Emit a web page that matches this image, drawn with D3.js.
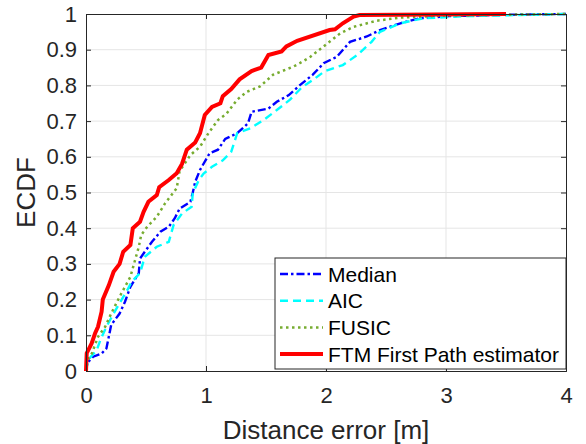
<!DOCTYPE html>
<html>
<head>
<meta charset="utf-8">
<script src="https://cdn.jsdelivr.net/npm/d3@7"></script>
<style>
  body { margin: 0; background: #fff; }
  text { font-family: "Liberation Sans", Arial, sans-serif; fill: #262626; }
</style>
</head>
<body>
<svg id="chart"></svg>
<script>
"use strict";
// ECDF curves: [distance error, ecdf]
const median = [[0,0],[0.006,0.026],[0.02,0.026],[0.06,0.04],[0.13,0.049],[0.17,0.063],[0.19,0.096],[0.21,0.129],[0.28,0.161],[0.325,0.194],[0.37,0.236],[0.44,0.274],[0.45,0.315],[0.49,0.334],[0.55,0.362],[0.62,0.39],[0.69,0.404],[0.74,0.428],[0.78,0.455],[0.87,0.474],[0.89,0.50],[0.91,0.53],[0.95,0.563],[1.03,0.61],[1.10,0.62],[1.16,0.65],[1.26,0.666],[1.35,0.694],[1.38,0.726],[1.52,0.735],[1.59,0.754],[1.69,0.773],[1.78,0.80],[1.89,0.83],[1.98,0.862],[2.09,0.88],[2.2,0.922],[2.34,0.937],[2.45,0.955],[2.62,0.974],[2.78,0.988],[3.03,0.994],[3.5,0.998],[4,1]];
const aic = [[0,0],[0.006,0.012],[0.03,0.036],[0.09,0.059],[0.12,0.087],[0.17,0.124],[0.23,0.161],[0.28,0.19],[0.35,0.23],[0.38,0.25],[0.45,0.274],[0.49,0.32],[0.59,0.348],[0.69,0.362],[0.73,0.409],[0.80,0.441],[0.88,0.46],[0.89,0.498],[0.94,0.535],[0.98,0.553],[1.05,0.572],[1.14,0.59],[1.21,0.614],[1.26,0.666],[1.37,0.68],[1.48,0.703],[1.59,0.731],[1.70,0.76],[1.80,0.795],[1.89,0.815],[1.99,0.84],[2.14,0.857],[2.26,0.885],[2.38,0.922],[2.45,0.95],[2.62,0.974],[2.81,0.988],[3.17,0.994],[3.6,0.997],[4,1]];
const fusic = [[0,0],[0.006,0.026],[0.05,0.05],[0.10,0.096],[0.16,0.124],[0.21,0.161],[0.28,0.208],[0.37,0.264],[0.44,0.348],[0.46,0.381],[0.51,0.404],[0.59,0.432],[0.66,0.47],[0.69,0.483],[0.756,0.512],[0.78,0.56],[0.87,0.605],[0.95,0.628],[1.02,0.666],[1.10,0.703],[1.17,0.72],[1.26,0.76],[1.34,0.782],[1.45,0.797],[1.56,0.83],[1.73,0.853],[1.78,0.862],[1.87,0.88],[1.96,0.904],[2.12,0.946],[2.23,0.964],[2.42,0.981],[2.62,0.99],[3.0,0.996],[4,1]];
const ftm = [[0,0],[0.006,0.05],[0.047,0.077],[0.075,0.105],[0.10,0.124],[0.13,0.166],[0.14,0.20],[0.19,0.24],[0.23,0.278],[0.28,0.30],[0.31,0.334],[0.37,0.353],[0.39,0.40],[0.45,0.418],[0.48,0.446],[0.52,0.474],[0.59,0.493],[0.61,0.515],[0.69,0.535],[0.756,0.554],[0.80,0.58],[0.84,0.62],[0.91,0.64],[0.95,0.666],[0.99,0.717],[1.05,0.74],[1.12,0.75],[1.14,0.77],[1.21,0.79],[1.28,0.817],[1.38,0.84],[1.46,0.85],[1.52,0.885],[1.63,0.895],[1.67,0.909],[1.76,0.925],[2.03,0.955],[2.075,0.957],[2.14,0.974],[2.23,0.993],[2.28,0.997],[3.5,1]];
const xTicks = [0, 1, 2, 3, 4];
const yTicks = [0, 0.1, 0.2, 0.3, 0.4, 0.5, 0.6, 0.7, 0.8, 0.9, 1];
const names = ["Median", "AIC", "FUSIC", "FTM First Path estimator"];

const width = 586, height = 444;
const marginLeft = 86, marginRight = 20, marginTop = 14, marginBottom = 73;

var svg = d3.select("#chart").attr("width", width).attr("height", height);

var xScale = d3.scaleLinear().domain([0, 4]).range([marginLeft, width - marginRight]);
var yScale = d3.scaleLinear().domain([0, 1]).range([height - marginBottom, marginTop]);

// 网格
svg.append("g").selectAll("line").data(xTicks.slice(1, -1)).enter().append("line")
  .attr("x1", d => xScale(d)).attr("x2", d => xScale(d))
  .attr("y1", yScale(0)).attr("y2", yScale(1))
  .attr("stroke", "#e5e5e5").attr("stroke-width", 1);
svg.append("g").selectAll("line").data(yTicks.slice(1, -1)).enter().append("line")
  .attr("x1", xScale(0)).attr("x2", xScale(4))
  .attr("y1", d => yScale(d)).attr("y2", d => yScale(d))
  .attr("stroke", "#e5e5e5").attr("stroke-width", 1);

// 曲线
var line = d3.line().x(d => xScale(d[0])).y(d => yScale(d[1]));
const styles = [
  { data: median, color: "#0000ff", width: 2.4, dash: "8,3,2.5,3" },
  { data: aic, color: "#00ffff", width: 2.4, dash: "8,5" },
  { data: fusic, color: "#77ac30", width: 2.5, dash: "2.5,3.5" },
  { data: ftm, color: "#ff0000", width: 4, dash: null }
];
var plot = svg.append("g");
styles.forEach(s => {
  plot.append("path")
    .attr("d", line(s.data))
    .attr("fill", "none")
    .attr("stroke", s.color)
    .attr("stroke-width", s.width)
    .attr("stroke-dasharray", s.dash);
});

// 坐标轴
var xAxis = d3.axisBottom(xScale).tickValues(xTicks).tickSize(-5).tickPadding(16).tickFormat(d3.format("d"));
var yAxis = d3.axisLeft(yScale).tickValues(yTicks).tickSize(-5).tickPadding(9).tickFormat(d => d === 0 || d === 1 ? d : d3.format(".1f")(d));
var xTop = d3.axisTop(xScale).tickValues(xTicks).tickSize(-5).tickFormat("");
var yRight = d3.axisRight(yScale).tickValues(yTicks).tickSize(-5).tickFormat("");

function styleAxis(g) {
  g.select(".domain").attr("stroke", "#262626").attr("stroke-width", 1);
  g.selectAll(".tick line").attr("stroke", "#262626");
  g.selectAll(".tick text").style("font-size", "22px").attr("fill", "#262626");
}
svg.append("g").attr("transform", `translate(0,${yScale(0)})`).call(xAxis).call(styleAxis);
svg.append("g").attr("transform", `translate(${xScale(0)},0)`).call(yAxis).call(styleAxis);
svg.append("g").attr("transform", `translate(0,${yScale(1)})`).call(xTop).call(styleAxis);
svg.append("g").attr("transform", `translate(${xScale(4)},0)`).call(yRight).call(styleAxis);

svg.append("text")
  .attr("x", (xScale(0) + xScale(4)) / 2)
  .attr("y", 439)
  .style("text-anchor", "middle")
  .style("font-size", "26px")
  .text("Distance error [m]");
svg.append("text")
  .attr("transform", `translate(35,${(yScale(0) + yScale(1)) / 2}) rotate(-90)`)
  .style("text-anchor", "middle")
  .style("font-size", "26px")
  .text("ECDF");

// 图例
var legend = svg.append("g").attr("transform", "translate(275,258)");
legend.append("rect")
  .attr("width", 291).attr("height", 111)
  .attr("fill", "#fff").attr("stroke", "#262626").attr("stroke-width", 1);
styles.forEach((s, i) => {
  var yy = 16 + i * 26.7;
  legend.append("line")
    .attr("x1", 5).attr("x2", 48).attr("y1", yy).attr("y2", yy)
    .attr("stroke", s.color).attr("stroke-width", s.width)
    .attr("stroke-dasharray", s.dash);
  legend.append("text")
    .attr("x", 53).attr("y", yy + 7.5)
    .style("font-size", "21px")
    .style("fill", "#000")
    .text(names[i]);
});
</script>
</body>
</html>
